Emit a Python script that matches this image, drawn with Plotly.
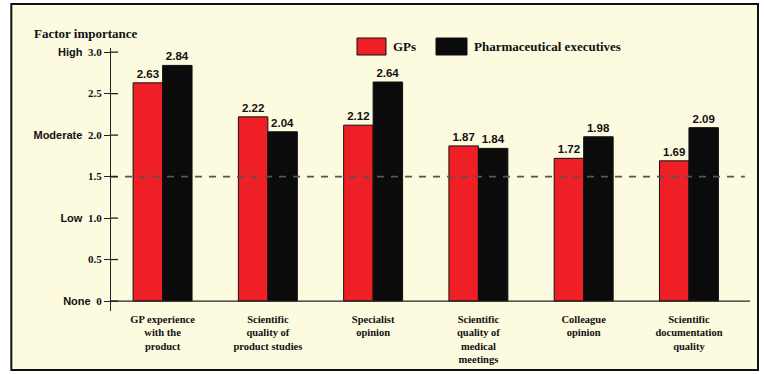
import plotly.graph_objects as go

# Factors rated and mean importance scores per group
factors = [
    "GP experience<br>with the<br>product",
    "Scientific<br>quality of<br>product studies",
    "Specialist<br>opinion",
    "Scientific<br>quality of<br>medical<br>meetings",
    "Colleague<br>opinion",
    "Scientific<br>documentation<br>quality",
]
gp_scores = [2.63, 2.22, 2.12, 1.87, 1.72, 1.69]
exec_scores = [2.84, 2.04, 2.64, 1.84, 1.98, 2.09]
series_names = ["GPs", "Pharmaceutical executives"]

tick_values = [0, 0.5, 1.0, 1.5, 2.0, 2.5, 3.0]
tick_numbers = ["0", "0.5", "1.0", "1.5", "2.0", "2.5", "3.0"]
tick_words = ["None", "", "Low", "", "Moderate", "", "High"]
reference_level = 1.5

RED = "#ee1f25"
BLACK = "#0b0b0b"
CREAM = "#fcfadf"
SERIF = "Liberation Serif"
SANS = "Liberation Sans"

xpos = list(range(len(factors)))

tick_text = []
for word, num in zip(tick_words, tick_numbers):
    if word:
        tick_text.append(
            f"<span style='font-family:{SANS}'><b>{word}</b></span>  <b>{num}</b>"
        )
    else:
        tick_text.append(f"<b>{num}</b>")

factor_text = ["<b>" + f.replace("<br>", "</b><br><b>") + "</b>" for f in factors]

fig = go.Figure()
for name, vals, color in [(series_names[0], gp_scores, RED), (series_names[1], exec_scores, BLACK)]:
    fig.add_trace(go.Bar(
        x=xpos, y=vals, name=name,
        marker=dict(color=color, line=dict(color="#111", width=1)),
        texttemplate="<b>%{y:.2f}</b>", textposition="outside",
        textfont=dict(family=SANS, size=11.5, color="#111"),
        cliponaxis=False, showlegend=False,
    ))

shapes = [
    # outer frame with cream background
    dict(type="rect", xref="paper", yref="paper", x0=-0.156, x1=1.0125, y0=-0.224, y1=1.167,
         line=dict(color="#111", width=2), fillcolor=CREAM, layer="below"),
    # x axis baseline
    dict(type="line", xref="x domain", yref="y", x0=0, x1=1, y0=0, y1=0,
         line=dict(color="#222", width=1.3)),
    # dashed reference level, drawn across the bars
    dict(type="line", xref="x domain", yref="y", x0=0, x1=0.992, y0=reference_level, y1=reference_level,
         line=dict(color="#555", width=1.6, dash="7px,7px")),
]
# inner half of the cross ticks on the y axis
for tv in tick_values:
    shapes.append(dict(type="line", xref="x domain", yref="y", x0=0, x1=0.011, y0=tv, y1=tv,
                       line=dict(color="#222", width=1.3)))

# legend swatches
legend_items = [
    (RED, 357, 386, series_names[0], 391),
    (BLACK, 436, 467, series_names[1], 472),
]
annotations = []
for color, px0, px1, label, tx in legend_items:
    shapes.append(dict(type="rect", xref="paper", yref="paper",
                       x0=(px0 - 111) / 639, x1=(px1 - 111) / 639,
                       y0=(311 - 55) / 263, y1=(311 - 38) / 263,
                       fillcolor=color, line=dict(color="#111", width=1)))
    annotations.append(dict(xref="paper", yref="paper", x=(tx - 111) / 639, y=(311 - 46.5) / 263,
                            xanchor="left", yanchor="middle", showarrow=False,
                            text=f"<b>{label}</b>",
                            font=dict(family=SERIF, size=13, color="#111")))

annotations.append(dict(xref="paper", yref="paper", x=(32 - 111) / 639, y=(311 - 33) / 263,
                        xanchor="left", yanchor="middle", showarrow=False,
                        text="<b>Factor importance</b>",
                        font=dict(family=SERIF, size=13, color="#111")))

fig.update_layout(
    width=764, height=374,
    margin=dict(l=111, r=14, t=48, b=63),
    paper_bgcolor="white", plot_bgcolor="rgba(0,0,0,0)",
    barmode="group", bargap=0.44, bargroupgap=0,
    shapes=shapes, annotations=annotations,
    xaxis=dict(
        range=[-0.49, 5.58], tickmode="array", tickvals=xpos, ticktext=factor_text,
        showgrid=False, zeroline=False, showline=False, ticks="", automargin=False,
        tickfont=dict(family=SERIF, size=10.5, color="#111"),
    ),
    yaxis=dict(
        range=[-0.12, 3.05], tickmode="array", tickvals=tick_values, ticktext=tick_text,
        showgrid=False, zeroline=False, showline=True, linecolor="#222", linewidth=1.3,
        ticks="outside", ticklen=6, tickwidth=1.3, tickcolor="#222", automargin=False,
        tickfont=dict(family=SERIF, size=11, color="#111"),
    ),
)

fig.write_html("out.html")
